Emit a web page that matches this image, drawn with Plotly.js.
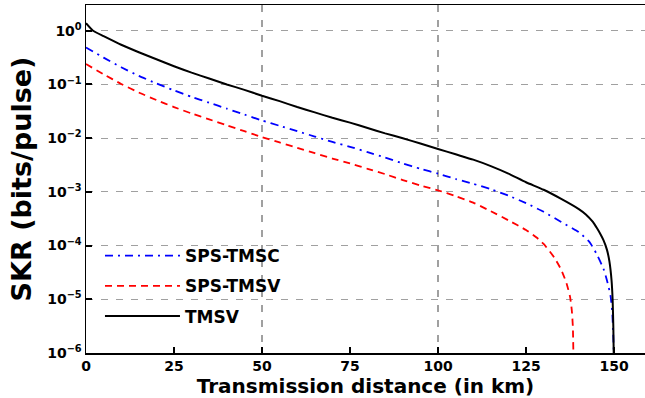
<!DOCTYPE html>
<html>
<head>
<meta charset="utf-8">
<script src="https://cdn.plot.ly/plotly-3.0.1.min.js"></script>
<style>html,body{margin:0;padding:0;background:#fff;}#chart{width:645px;height:398px;}</style>
</head>
<body>
<div id="chart"></div>
<script>
// Transmission distance (km) and log10(SKR)
const tmsvX = [0,2,5,10,15,20,25,30,35,40,45,50,55,60,65,70,75,80,85,90,95,100,105,110,115,120,125,130,135,140,142,144,145,146,147,148,148.7,149.3,149.6,149.8,149.95];
const tmsvLog10 = [0.14,0,-0.10,-0.26,-0.40,-0.53,-0.66,-0.78,-0.89,-1.0,-1.10,-1.21,-1.31,-1.42,-1.52,-1.62,-1.71,-1.81,-1.91,-2.0,-2.1,-2.2,-2.3,-2.4,-2.52,-2.66,-2.82,-2.96,-3.13,-3.32,-3.42,-3.56,-3.66,-3.77,-3.9,-4.08,-4.3,-4.65,-5.0,-5.5,-6.2];

const tmscX = [0,5,10,15,20,25,30,35,40,45,50,55,60,65,70,75,80,85,90,95,100,105,110,115,120,125,130,135,140,143,145,147,148,149,149.5,149.8,150];
const tmscLog10 = [-0.31,-0.50,-0.68,-0.84,-0.98,-1.11,-1.23,-1.34,-1.45,-1.56,-1.67,-1.77,-1.87,-1.97,-2.07,-2.16,-2.26,-2.36,-2.47,-2.57,-2.66,-2.76,-2.85,-2.95,-3.07,-3.21,-3.37,-3.56,-3.75,-3.93,-4.15,-4.43,-4.65,-4.93,-5.25,-5.7,-6.2];

const spsTmsvX = [0,5,10,15,20,25,30,35,40,45,50,55,60,65,70,75,80,85,90,95,100,105,110,115,120,125,128,130,133,135,136.5,137.5,138,138.3,138.5];
const spsTmsvLog10 = [-0.62,-0.81,-0.99,-1.15,-1.29,-1.42,-1.54,-1.65,-1.76,-1.87,-1.98,-2.08,-2.18,-2.28,-2.38,-2.47,-2.57,-2.67,-2.78,-2.88,-2.97,-3.08,-3.2,-3.36,-3.53,-3.71,-3.85,-3.97,-4.22,-4.45,-4.7,-4.95,-5.2,-5.5,-6.2];

const seriesNames = ["SPS-TMSC", "SPS-TMSV", "TMSV"];
const xTickVals = [0,25,50,75,100,125,150];
const xGridVals = [50,100];
const yExponents = [-6,-5,-4,-3,-2,-1,0];

const toSKR = arr => arr.map(v => Math.pow(10, v));
const yTickVals = yExponents.map(e => Math.pow(10, e));
const yTickText = yExponents.map(e => "10<sup>" + (e < 0 ? "\u2212" + (-e) : e) + "</sup>");

const fam = "DejaVu Sans";

const traces = [
  {x: tmscX, y: toSKR(tmscLog10), name: seriesNames[0], legendgroup: "a", mode: "lines",
   line: {color: "#0000ff", width: 1.8, dash: "8px,5px,2px,5px", shape: "spline", smoothing: 0.5}},
  {x: spsTmsvX, y: toSKR(spsTmsvLog10), name: seriesNames[1], legendgroup: "b", mode: "lines",
   line: {color: "#ff0000", width: 1.8, dash: "7px,5px", shape: "spline", smoothing: 0.5}},
  {x: tmsvX, y: toSKR(tmsvLog10), name: seriesNames[2], legendgroup: "c", mode: "lines",
   line: {color: "#000000", width: 2, shape: "spline", smoothing: 0.5}},
  {x: [], y: [], xaxis: "x2", yaxis: "y", showlegend: false, hoverinfo: "skip", mode: "lines"}
];

const layout = {
  width: 645, height: 398,
  margin: {l: 86, r: 0, t: 5, b: 45},
  paper_bgcolor: "#fff", plot_bgcolor: "#fff",
  showlegend: true,
  font: {family: fam, color: "#000", size: 14, weight: "bold"},
  xaxis: {
    range: [0, 158.8], tickvals: xTickVals, ticktext: xTickVals.map(String),
    ticks: "inside", ticklen: 6, tickwidth: 1.5, tickcolor: "#000",
    showline: true, linecolor: "#000", linewidth: 1.5, mirror: true,
    showgrid: false, zeroline: false, ticklabelstandoff: 0,
    tickfont: {family: fam, size: 14, weight: "bold"},
    title: {text: "Transmission distance (in km)", font: {family: fam, size: 20, weight: "bold"}, standoff: 4}
  },
  xaxis2: {
    overlaying: "x", anchor: "y", range: [0, 158.8], tickvals: xGridVals,
    showgrid: true, gridcolor: "#a0a0a0", gridwidth: 1.2, griddash: "7px,8px",
    showticklabels: false, ticks: "", showline: false, zeroline: false
  },
  yaxis: {
    type: "log", range: [-6, 0.48], tickvals: yTickVals, ticktext: yTickText,
    ticks: "inside", ticklen: 6, tickwidth: 2, tickcolor: "#000",
    showline: true, linecolor: "#000", linewidth: 1.5, mirror: true,
    showgrid: true, gridcolor: "#a0a0a0", gridwidth: 1.2, griddash: "7px,8px",
    zeroline: false,
    tickfont: {family: fam, size: 14, weight: "bold"},
    title: {text: "SKR (bits/pulse)", font: {family: fam, size: 27, weight: "bold"}, standoff: 7}
  },
  legend: {
    x: 0.025, y: 0.33, xanchor: "left", yanchor: "top",
    bgcolor: "rgba(0,0,0,0)", borderwidth: 0,
    itemwidth: 75, traceorder: "grouped", tracegroupgap: 5,
    font: {family: fam, size: 17, weight: "bold"}
  }
};

Plotly.newPlot("chart", traces, layout, {displayModeBar: false, staticPlot: true});
</script>
</body>
</html>
